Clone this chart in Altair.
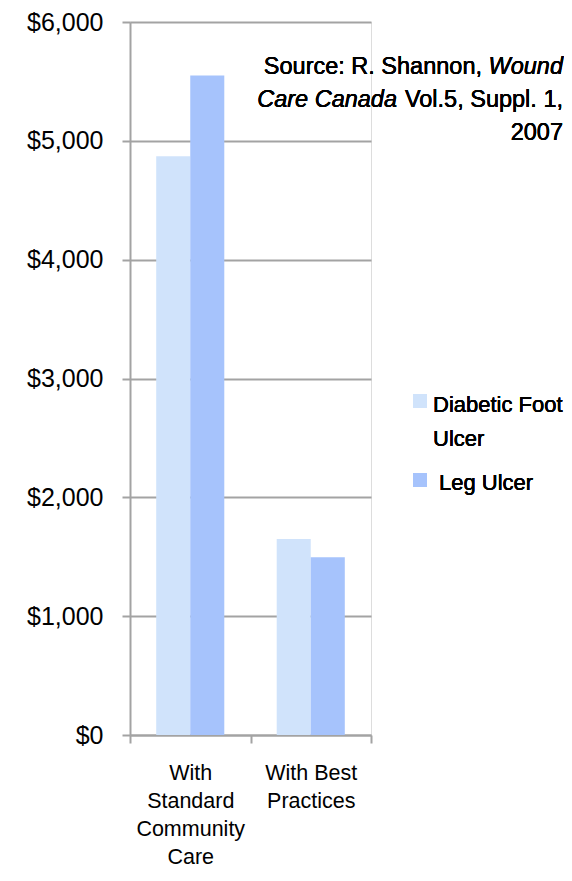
import altair as alt
import pandas as pd

categories = ["With\nStandard\nCommunity\nCare", "With Best\nPractices"]
series = ["Diabetic Foot Ulcer", "Leg Ulcer"]
dfu_values = [4870, 1650]
leg_values = [5550, 1495]
colors = ["#d0e3fb", "#a6c3fc"]

rows = []
for i, c in enumerate(categories):
    rows.append({"category": c, "series": series[0], "value": dfu_values[i]})
    rows.append({"category": c, "series": series[1], "value": leg_values[i]})
df = pd.DataFrame(rows)

FONT = "Liberation Sans"
GRID = "#a3a3a3"

bars = alt.Chart(df).mark_bar(strokeWidth=0).encode(
    x=alt.X("category:N", sort=categories, title=None,
            scale=alt.Scale(paddingInner=0, paddingOuter=0),
            axis=alt.Axis(labelAngle=0, labelExpr="split(datum.label, '\\n')",
                          labelFontSize=21.5, labelLineHeight=28, labelFont=FONT,
                          labelColor="#000", labelPadding=19, tickBand="extent",
                          tickSize=8, tickColor=GRID, tickWidth=2,
                          domainColor=GRID, domainWidth=2, grid=False)),
    xOffset=alt.XOffset("series:N", sort=series,
                        scale=alt.Scale(paddingInner=0, paddingOuter=0.77)),
    y=alt.Y("value:Q", title=None,
            scale=alt.Scale(domain=[0, 6000], nice=False),
            axis=alt.Axis(values=[0, 1000, 2000, 3000, 4000, 5000, 6000],
                          format="$,.0f", labelFontSize=25, labelFont=FONT,
                          labelColor="#000", labelPadding=19,
                          tickSize=8, tickColor=GRID, tickWidth=2,
                          domainColor=GRID, domainWidth=2,
                          grid=True, gridColor=GRID, gridWidth=2)),
    color=alt.Color("series:N", sort=series,
                    scale=alt.Scale(domain=series, range=colors), legend=None),
)

def txt(text, x, y, align="left", italic=False, size=23.5):
    kw = dict(text=text, align=align, baseline="alphabetic", font=FONT,
              fontSize=size, color="#000")
    if italic:
        kw["fontStyle"] = "italic"
    return alt.Chart(df).mark_text(**kw).encode(x=alt.value(x), y=alt.value(y))

def sq(x, y, color):
    return alt.Chart(df).mark_square(size=196, color=color, opacity=1,
                                     strokeWidth=0).encode(x=alt.value(x), y=alt.value(y))

source = [
    txt("Source: R. Shannon,", 352, 51.5, align="right"),
    txt("Wound", 433, 51.5, align="right", italic=True),
    txt("Care Canada", 267, 84.5, align="right", italic=True),
    txt(" Vol.5, Suppl. 1,", 433, 84.5, align="right"),
    txt("2007", 433, 117.5, align="right"),
]

legend = [
    sq(290, 379, colors[0]),
    sq(290, 458, colors[1]),
    txt("Diabetic Foot", 303, 390, size=22),
    txt("Ulcer", 303, 424, size=22),
    txt("Leg Ulcer", 309, 468, size=22),
]

chart = alt.layer(bars, *source, *legend).properties(
    width=241, height=713,
    autosize=alt.AutoSizeParams(type="none"),
    padding={"left": 122, "top": 14, "right": 193, "bottom": 134},
).configure_view(stroke=None).configure(background="white")

chart.save("out.html", embed_options={"renderer": "svg", "actions": False})
